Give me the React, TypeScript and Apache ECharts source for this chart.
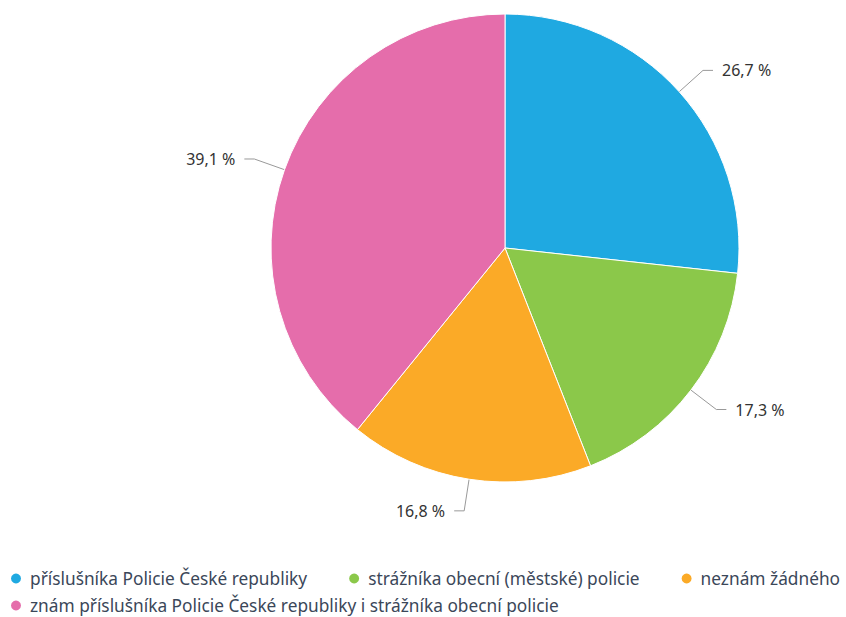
import React, { useEffect, useRef } from "react";
import * as echarts from "echarts";

const categories = [
  "příslušníka Policie České republiky",
  "strážníka obecní (městské) policie",
  "neznám žádného",
  "znám příslušníka Policie České republiky i strážníka obecní policie",
];
const values = [26.7, 17.3, 16.8, 39.1];
const colors = ["#1fa9e1", "#8bc84a", "#fbaa27", "#e56dab"];

const legendText = {
  fontFamily: "Noto Sans",
  fontSize: 17.3,
  color: "#3b4759",
};

export default function App() {
  const ref = useRef<HTMLDivElement>(null);
  useEffect(() => {
    document.body.style.margin = "0";
    const chart = echarts.init(ref.current!, null, { renderer: "svg" });
    chart.setOption({
      animation: false,
      color: colors,
      legend: [
        {
          data: categories.slice(0, 3),
          top: 570,
          left: 9,
          icon: "circle",
          itemWidth: 18,
          itemHeight: 12,
          itemGap: 40,
          padding: 0,
          textStyle: legendText,
        },
        {
          data: categories.slice(3),
          top: 597,
          left: 9,
          icon: "circle",
          itemWidth: 18,
          itemHeight: 12,
          padding: 0,
          textStyle: legendText,
        },
      ],
      series: [
        {
          type: "pie",
          center: [505, 248],
          radius: [0, 234],
          startAngle: 90,
          clockwise: true,
          itemStyle: { borderColor: "#fff", borderWidth: 1 },
          label: {
            formatter: (p: any) => String(p.value).replace(".", ",") + " %",
            fontFamily: "Noto Sans",
            fontSize: 16,
            color: "#333",
            distanceToLabelLine: 9,
          },
          labelLine: {
            length: 32,
            length2: 10,
            lineStyle: { color: "#999", width: 1 },
          },
          data: categories.map((c, i) => ({ name: c, value: values[i] })),
        },
      ],
    });
    return () => chart.dispose();
  }, []);
  return <div ref={ref} style={{ width: 846, height: 617 }} />;
}
